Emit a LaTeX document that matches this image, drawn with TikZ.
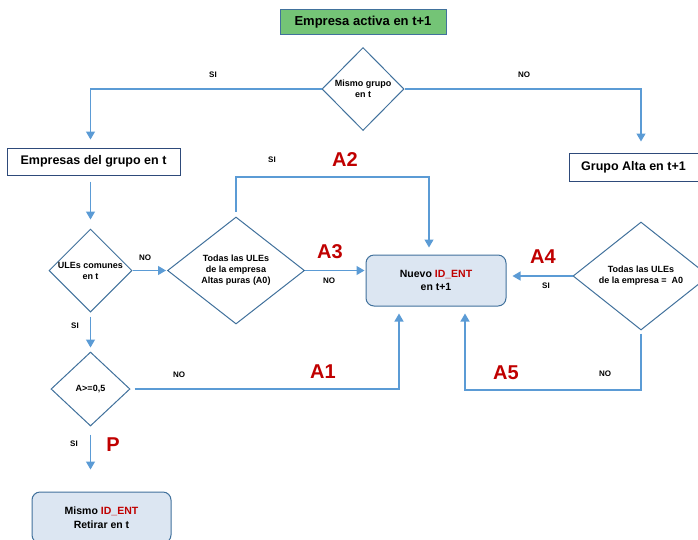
\documentclass[tikz,border=0pt]{standalone}
\usepackage{fontspec}
\setmainfont{Liberation Sans}
\usetikzlibrary{shapes.geometric,arrows.meta,calc}
\definecolor{lineblue}{HTML}{5B9BD5}
\definecolor{diamblue}{HTML}{41719C}
\definecolor{boxnavy}{HTML}{2E4A7A}
\definecolor{fillblue}{HTML}{DCE6F2}
\definecolor{topgreen}{HTML}{74C476}
\definecolor{darkred}{HTML}{C00000}
\begin{document}
\begin{tikzpicture}[x=1pt,y=-1pt,
  arr/.style={draw=lineblue,line width=1.2pt,-{Triangle[width=9pt,length=8pt]}},
  dia/.style={diamond,draw=diamblue,line width=1pt,fill=white,inner sep=0pt,align=center,font=\fontsize{9}{11}\selectfont\bfseries},
  plainbox/.style={rectangle,draw=boxnavy,line width=1pt,fill=white,align=center,font=\fontsize{12.5}{15}\selectfont\bfseries},
  resbox/.style={rectangle,rounded corners=8pt,draw=diamblue,line width=1pt,fill=fillblue,align=center,font=\fontsize{10.5}{13.5}\selectfont\bfseries},
  yn/.style={font=\fontsize{8}{9}\selectfont\bfseries},
  big/.style={font=\fontsize{20}{22}\selectfont\bfseries,text=darkred}]
\useasboundingbox (0,0) rectangle (698,539);
\clip (0,0) rectangle (698,539);
% nodes
\node[rectangle,draw=diamblue,line width=0.8pt,fill=topgreen,minimum width=166pt,minimum height=25pt,font=\fontsize{13}{15}\selectfont\bfseries] (top) at (363,22) {Empresa activa en t+1};
\node[dia,minimum width=82pt,minimum height=83pt] (d1) at (363,89) {Mismo grupo\\en t};
\node[plainbox,minimum width=173pt,minimum height=27pt] (gbox) at (93.5,161.5) {Empresas del grupo en t};
\node[plainbox,minimum width=129pt,minimum height=28pt] (galta) at (633.5,167) {Grupo Alta en t+1};
\node[dia,minimum width=83pt,minimum height=83pt] (d2) at (90.5,270.5) {ULEs comunes\\en t};
\node[dia,minimum width=137pt,minimum height=107pt] (d3) at (236,270.5) {Todas las ULEs\\de la empresa\\Altas puras (A0)};
\node[resbox,minimum width=140pt,minimum height=51pt] (nuevo) at (436,280.5) {Nuevo \textcolor{darkred}{ID\_ENT}\\en t+1};
\node[dia,minimum width=136pt,minimum height=108pt] (d4) at (641,276) {Todas las ULEs\\de la empresa =\ \ A0};
\node[dia,minimum width=79pt,minimum height=74pt] (d5) at (90.5,389) {A>=0,5};
\node[resbox,minimum width=139pt,minimum height=51pt] (mismo) at (101.5,517.5) {Mismo \textcolor{darkred}{ID\_ENT}\\Retirar en t};
% corner coordinates
\coordinate (c2) at (236,177);
\coordinate (c2b) at (429,177);
\coordinate (c5a) at (641,390);
\coordinate (c5b) at (465,390);
\coordinate (c1) at (399,389);
% connectors
\draw[arr,shorten >=8pt] (d1.west) -| (d2.north |- gbox.north);
\draw[arr,shorten >=11pt] (d1.east) -| (d4.north |- galta.north);
\draw[arr,shorten <=6pt,shorten >=9pt] (d2.north |- gbox.south) -- (d2.north);
\draw[arr,shorten >=1pt] (d2.east) -- (d3.west);
\draw[arr,shorten <=5pt,shorten >=7pt] (d3.north) -- (c2) -- (c2b) -- (c2b |- nuevo.north);
\draw[arr,shorten >=1pt] (d3.east) -- (d3.east -| nuevo.west);
\draw[arr,shorten >=6pt] (d4.west) -- (d4.west -| nuevo.east);
\draw[arr,shorten <=3pt,shorten >=7pt] (d4.south) -- (c5a) -- (c5b) -- (c5b |- nuevo.south);
\draw[arr,shorten <=4pt,shorten >=7pt] (d5.east) -- (c1) -- (c1 |- nuevo.south);
\draw[arr,shorten <=4pt,shorten >=4pt] (d2.south) -- (d5.north);
\draw[arr,shorten <=8pt,shorten >=22pt] (d5.south) -- (d5.south |- mismo.north);
% labels
\node[yn] (l1) at (213,75) {SI};
\node[yn] (l2) at (524,75) {NO};
\node[yn] (l3) at (145,258) {NO};
\node[yn] (l4) at (272,160) {SI};
\node[big] (a2) at (345,160) {A2};
\node[big] (a3) at (330,252) {A3};
\node[yn] (l5) at (329,281) {NO};
\node[big] (a4) at (543,257) {A4};
\node[yn] (l6) at (546,286) {SI};
\node[yn] (l7) at (75,326) {SI};
\node[yn] (l8) at (179,375) {NO};
\node[big] (a1) at (323,372) {A1};
\node[big] (a5) at (506,373) {A5};
\node[yn] (l9) at (605,374) {NO};
\node[yn] (l10) at (74,444) {SI};
\node[big] (p) at (113,445) {P};
\end{tikzpicture}
\end{document}
